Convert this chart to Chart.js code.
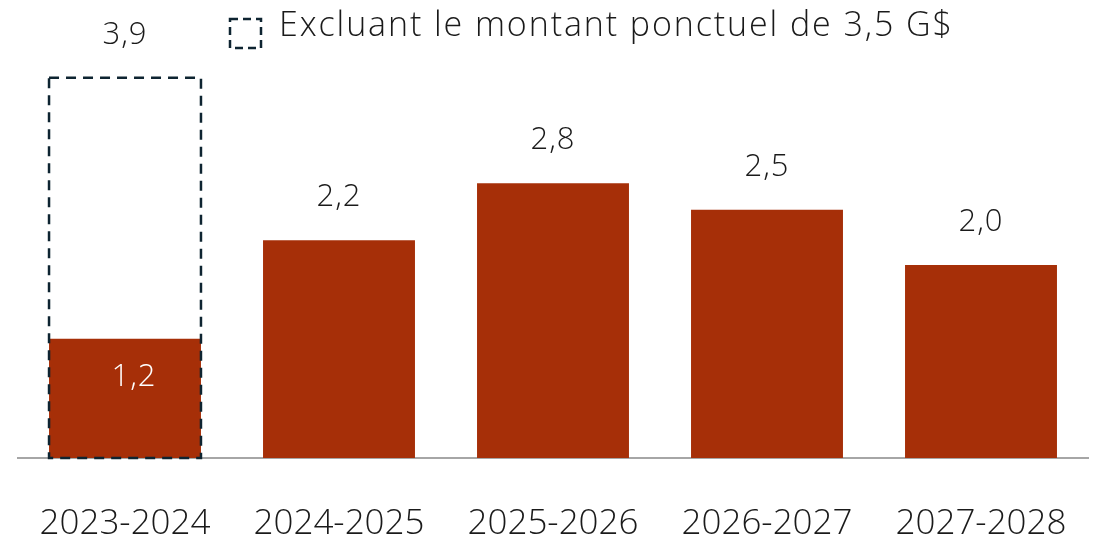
<!DOCTYPE html>
<html>
<head>
<meta charset="utf-8">
<script src="https://cdn.jsdelivr.net/npm/chart.js@4"></script>
<style>
  html, body { margin: 0; padding: 0; background: #fff; }
  #wrap { width: 1102px; height: 535px; }
</style>
</head>
<body>
<div id="wrap"><canvas id="chart"></canvas></div>
<script>
const categories = ['2023-2024', '2024-2025', '2025-2026', '2026-2027', '2027-2028'];
const values = [1.21, 2.21, 2.79, 2.52, 1.96];
const excludingOneTime = [3.86, null, null, null, null];
const legendText = 'Excluant le montant ponctuel de 3,5 G$';

const FONT = "'Open Sans', sans-serif";
const RED = '#a62f08';
const DASH = '#0e2431';

const fmt = (v) => v.toFixed(1).replace('.', ',');

// boîte pointillée + étiquettes + légende
const annotPlugin = {
  id: 'annot',
  afterDatasetsDraw(chart) {
    const { ctx } = chart;
    ctx.save();

    // contour pointillé
    const dashMeta = chart.getDatasetMeta(1);
    dashMeta.data.forEach((el, i) => {
      if (excludingOneTime[i] == null) return;
      const { x, y, base, width } = el.getProps(['x', 'y', 'base', 'width'], true);
      ctx.setLineDash([10, 7]);
      ctx.lineWidth = 2.5;
      ctx.strokeStyle = DASH;
      ctx.strokeRect(x - width / 2, y, width, base - y);
      ctx.setLineDash([]);
      ctx.font = '300 31px ' + FONT;
      ctx.letterSpacing = '1px';
      ctx.fillStyle = '#1a1a1a';
      ctx.textAlign = 'center';
      ctx.textBaseline = 'middle';
      ctx.fillText(fmt(excludingOneTime[i]), x, y - 43);
    });

    // étiquettes des barres
    const meta = chart.getDatasetMeta(0);
    meta.data.forEach((el, i) => {
      const { x, y } = el.getProps(['x', 'y'], true);
      ctx.font = '300 31px ' + FONT;
      ctx.letterSpacing = '1px';
      ctx.textAlign = 'center';
      ctx.textBaseline = 'middle';
      if (excludingOneTime[i] != null) {
        ctx.fillStyle = '#ffffff';
        ctx.fillText(fmt(values[i]), x + 9, y + 38);
      } else {
        ctx.fillStyle = '#1a1a1a';
        ctx.fillText(fmt(values[i]), x, y - 43);
      }
    });

    // légende
    ctx.setLineDash([8, 5]);
    ctx.lineWidth = 2.5;
    ctx.strokeStyle = DASH;
    ctx.strokeRect(230, 19, 31, 29);
    ctx.setLineDash([]);
    ctx.font = '300 34px ' + FONT;
    ctx.letterSpacing = '1.9px';
    ctx.fillStyle = '#1a1a1a';
    ctx.textAlign = 'left';
    ctx.textBaseline = 'middle';
    ctx.fillText(legendText, 279, 26);

    ctx.restore();
  }
};

new Chart(document.getElementById('chart'), {
  type: 'bar',
  data: {
    labels: categories,
    datasets: [
      {
        label: 'Montant',
        data: values,
        backgroundColor: RED,
        borderWidth: 0,
        grouped: false,
        barPercentage: 0.71,
        categoryPercentage: 1
      },
      {
        label: legendText,
        data: excludingOneTime,
        backgroundColor: 'rgba(0,0,0,0)',
        borderWidth: 0,
        grouped: false,
        barPercentage: 0.71,
        categoryPercentage: 1
      }
    ]
  },
  options: {
    responsive: true,
    maintainAspectRatio: false,
    animation: false,
    layout: { padding: { top: 60, left: 18, right: 14, bottom: 0 } },
    plugins: {
      legend: { display: false },
      tooltip: { enabled: false }
    },
    scales: {
      x: {
        grid: { display: false },
        border: { color: '#a6a6a6', width: 2 },
        afterFit(scale) {
          scale.height = 77;
          scale.paddingLeft = 0;
          scale.paddingRight = 0;
        },
        ticks: {
          color: '#1a1a1a',
          padding: 37,
          font: { family: FONT, size: 35, weight: '300' }
        }
      },
      y: {
        display: false,
        min: 0,
        max: 4.04
      }
    }
  },
  plugins: [annotPlugin]
});
</script>
</body>
</html>
